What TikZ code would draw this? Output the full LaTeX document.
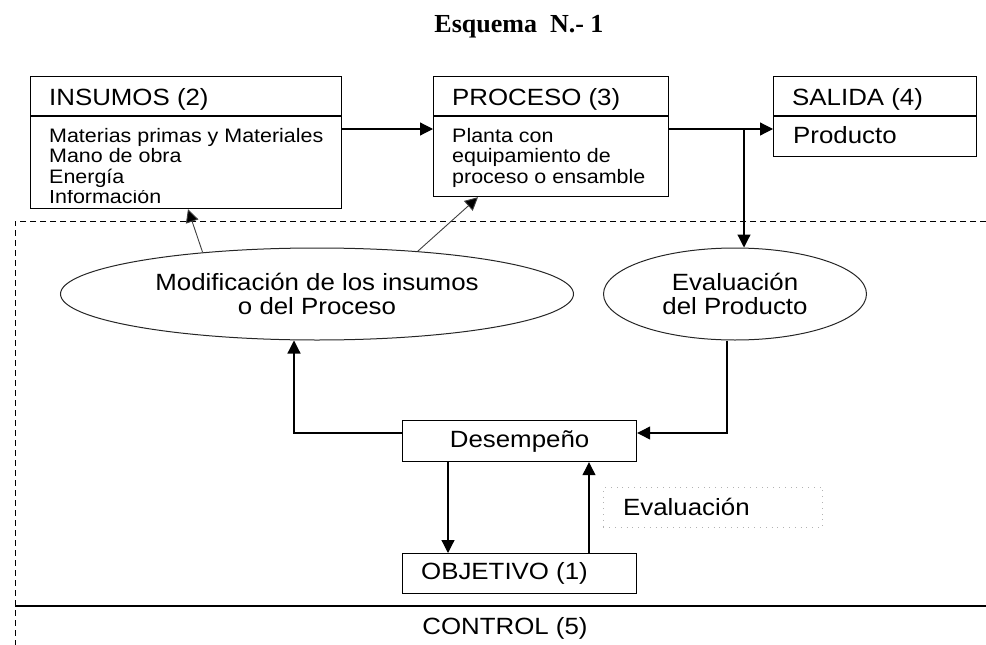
\documentclass[tikz,border=0pt]{standalone}
\usepackage{fontspec}
\setmainfont{Liberation Sans}[FakeStretch=1.1]
\newfontfamily\titlefont{Liberation Serif}
\usetikzlibrary{arrows.meta,shapes.geometric}
\begin{document}
\begin{tikzpicture}[x=1pt,y=-1pt,
  box/.style={draw, line width=1.2pt, inner sep=0pt, anchor=north west},
  ell/.style={ellipse, draw=black!85, line width=1pt, inner sep=0pt, align=center,
    font=\fontsize{23.5}{23.5}\selectfont},
  hdr/.style={anchor=base west, inner sep=0pt, font=\fontsize{23.5}{26}\selectfont},
  txt/.style={anchor=base west, inner sep=0pt, font=\fontsize{19.5}{21}\selectfont},
  big/.style={inner sep=0pt, font=\fontsize{23.5}{26}\selectfont},
  arr/.style={line width=1.2pt, -{Triangle[length=13pt,width=13pt]}},
  thinarr/.style={line width=0.9pt, draw=black!75, -{Triangle[length=13pt,width=13pt,fill=black]}},
  dotbox/.style={draw=black!30, line width=0.8pt, dash pattern=on 0.8pt off 5pt,
    inner sep=0pt, anchor=north west}]
\useasboundingbox (0,0) rectangle (986,645);

% title
\node[anchor=base, inner sep=0pt, font=\titlefont\bfseries\fontsize{26}{30}\selectfont]
  (ttl) at (519,32) {Esquema\ \ N.- 1};

% control zone: dashed frame and the bottom strip
\draw[line width=0.9pt, dash pattern=on 6pt off 4pt] (986,221) -- (15,221) -- (15,645);
\draw[line width=1.2pt] (15,606) -- (986,606);
\node[big] (ctl) at (505,628) {CONTROL (5)};

% INSUMOS
\node[box, minimum width=311pt, minimum height=132pt] (ins) at (30,76) {};
\draw[line width=1.2pt] ([yshift=-40pt]ins.north west) -- ([yshift=-40pt]ins.north east);
\node[hdr] (insh) at (49,105) {INSUMOS (2)};
\node[txt] (ins1) at (49,142) {Materias primas y Materiales};
\node[txt] (ins2) at (49,162.5) {Mano de obra};
\node[txt] (ins3) at (49,183) {Energía};
\begin{scope}
  \clip (31,190) rectangle (340,203.5);
  \node[txt] (ins4) at (49,203.5) {Información};
\end{scope}

% PROCESO
\node[box, minimum width=235pt, minimum height=120pt] (pro) at (433,76) {};
\draw[line width=1.2pt] ([yshift=-40pt]pro.north west) -- ([yshift=-40pt]pro.north east);
\node[hdr] (proh) at (452,105) {PROCESO (3)};
\node[txt] (pro1) at (452,142) {Planta con};
\node[txt] (pro2) at (452,162.5) {equipamiento de};
\node[txt] (pro3) at (452,183) {proceso o ensamble};

% SALIDA
\node[box, minimum width=203pt, minimum height=80pt] (sal) at (773,76) {};
\draw[line width=1.2pt] ([yshift=-40pt]sal.north west) -- ([yshift=-40pt]sal.north east);
\node[hdr] (salh) at (792,105) {SALIDA (4)};
\node[hdr] (sal1) at (793,143) {Producto};

% ellipses
\node[ell, minimum width=513pt, minimum height=92pt] (mod) at (317,294)
  {Modificación de los insumos\\o del Proceso};
\node[ell, minimum width=263pt, minimum height=92pt] (evp) at (735,294)
  {Evaluación\\del Producto};

% Desempeño, OBJETIVO and the evaluation label
\node[box, minimum width=234pt, minimum height=41pt, big] (des) at (402,420) {Desempeño};
\node[box, minimum width=234pt, minimum height=40pt] (obj) at (402,553) {};
\node[big, anchor=west] (objt) at (421,573) {OBJETIVO (1)};
\node[dotbox, minimum width=219pt, minimum height=40pt] (evb) at (603,487) {};
\node[big, anchor=west] (evt) at (623,507) {Evaluación};

% main flow
\draw[arr] ([yshift=-53pt]ins.north east) -- ([yshift=-53pt]pro.north west);
\draw[arr] ([yshift=-53pt]pro.north east) -- ([yshift=-53pt]sal.north west);
\coordinate (br) at (744,129);
\draw[arr] (br) -- (br |- evp.north);

% feedback from the modification ellipse
\draw[thinarr] (mod.160) -- ([xshift=158pt]ins.south west);
\draw[thinarr] (mod.23) -- ([xshift=45pt]pro.south west);

% control loop
\draw[arr] ([yshift=-13pt]des.north west) -| ([xshift=-23pt]mod.south);
\draw[arr] ([xshift=-8pt]evp.south) |- ([yshift=-13pt]des.north east);
\draw[arr] ([xshift=46pt]des.south west) -- ([xshift=46pt]obj.north west);
\draw[arr] ([xshift=187pt]obj.north west) -- ([xshift=187pt]des.south west);
\end{tikzpicture}
\end{document}
